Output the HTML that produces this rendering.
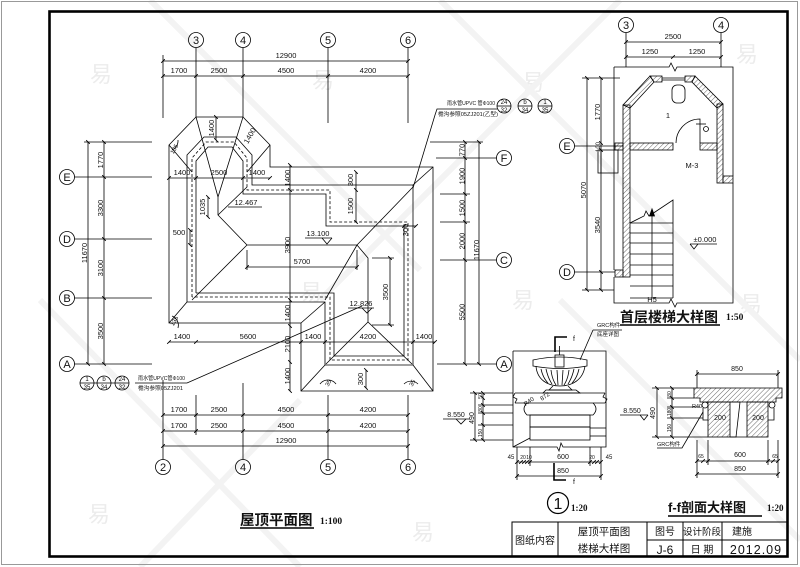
<!DOCTYPE html>
<html><head><meta charset="utf-8">
<style>
html,body{margin:0;padding:0;background:#fff;}
svg{display:block}
text{font-family:"Liberation Sans","Noto Sans CJK SC",sans-serif;fill:#111;stroke:none}
.c{font-family:"Liberation Sans","Noto Sans CJK SC",sans-serif}
text.wm{fill:#ececec}
</style></head>
<body>
<svg width="800" height="567" viewBox="0 0 800 567" xmlns="http://www.w3.org/2000/svg">
<defs>
<marker id="k" viewBox="-3 -3 6 6" markerWidth="6" markerHeight="6" refX="0" refY="0" orient="auto" markerUnits="userSpaceOnUse"><path d="M-1.8,1.8 L1.8,-1.8" stroke="#000" stroke-width="0.9"/></marker>
<pattern id="h" width="3.5" height="3.5" patternUnits="userSpaceOnUse" patternTransform="rotate(45)"><line x1="0" y1="0" x2="0" y2="3.5" stroke="#000" stroke-width="0.6"/></pattern>
<style>.d{marker-start:url(#k);marker-mid:url(#k);marker-end:url(#k);fill:none}</style>
</defs>

<!-- watermark -->
<g font-size="22">
<text class="wm c" x="90" y="82">易</text><text class="wm c" x="312" y="88">易</text><text class="wm c" x="522" y="90">易</text><text class="wm c" x="736" y="62">易</text>
<text class="wm c" x="512" y="308">易</text><text class="wm c" x="740" y="312">易</text><text class="wm c" x="88" y="522">易</text><text class="wm c" x="412" y="540">易</text><text class="wm c" x="300" y="300">易</text>
</g>
<g stroke="#f3f3f3" stroke-width="6" fill="none">
<line x1="150" y1="0" x2="420" y2="270"/><line x1="440" y1="0" x2="800" y2="360"/><line x1="40" y1="300" x2="300" y2="567"/><line x1="560" y1="300" x2="800" y2="540"/><line x1="620" y1="0" x2="320" y2="300"/><line x1="300" y1="400" x2="140" y2="567"/>
</g>

<!-- frames -->
<rect x="1.5" y="1.5" width="796" height="563" fill="none" stroke="#999" stroke-width="1"/>
<rect x="49.5" y="11.5" width="738" height="545" fill="none" stroke="#000" stroke-width="2.6"/>

<!-- ============ ROOF PLAN ============ -->
<g fill="none" stroke="#000" stroke-width="0.8">
<circle cx="196" cy="40" r="7.5"/><circle cx="243" cy="40" r="7.5"/><circle cx="328" cy="40" r="7.5"/><circle cx="408" cy="40" r="7.5"/>
<line x1="196" y1="47.5" x2="196" y2="117"/><line x1="243" y1="47.5" x2="243" y2="117"/>
<line x1="328" y1="47.5" x2="328" y2="123"/><line x1="408" y1="47.5" x2="408" y2="123"/>
<line x1="163" y1="55" x2="163" y2="118"/>
<polyline class="d" points="163,61 408,61"/>
<polyline class="d" points="163,76 196,76 243,76 328,76 408,76"/>
<circle cx="67" cy="177" r="7.5"/><circle cx="67" cy="239" r="7.5"/><circle cx="67" cy="298" r="7.5"/><circle cx="67" cy="364" r="7.5"/>
<line x1="74.5" y1="177" x2="152" y2="177"/><line x1="74.5" y1="239" x2="152" y2="239"/>
<line x1="74.5" y1="298" x2="152" y2="298"/><line x1="74.5" y1="364" x2="152" y2="364"/>
<line x1="84" y1="142" x2="152" y2="142"/>
<polyline class="d" points="88,142 88,364"/>
<polyline class="d" points="104,142 104,177 104,239 104,298 104,364"/>
<circle cx="504" cy="158" r="7.5"/><circle cx="504" cy="260" r="7.5"/><circle cx="504" cy="364" r="7.5"/>
<line x1="430" y1="142" x2="483" y2="142"/><line x1="436" y1="158" x2="496.5" y2="158"/>
<line x1="440" y1="194" x2="470" y2="194"/><line x1="440" y1="222" x2="470" y2="222"/>
<line x1="440" y1="260" x2="496.5" y2="260"/><line x1="437" y1="364" x2="496.5" y2="364"/>
<polyline class="d" points="465,142 465,158 465,194 465,222 465,260 465,364"/>
<polyline class="d" points="479,142 479,364"/>

<polygon points="169,145 196,117 243,117 270,145 270,167 433,167 433,391 301,391 301,323 169,323"/>
<polygon points="187,302 187,155 204,137 236,137 252,155 252,185 413,185 413,365 325,365 325,302"/>
<polyline stroke-dasharray="3,2" points="192,297 192,158 206,142 234,142 247,158 247,190 330,190 330,222 408,222 408,360 330,360 330,297 192,297"/>
<polyline points="196,293 196,161 208,147 232,147 243,161 243,194 326,194 326,226 404,226 404,356 334,356 334,293 196,293"/>
<polyline points="218,197 218,215 247,245 357,245 368,258 368,322"/>
<line x1="218" y1="215" x2="247" y2="187"/>
<line x1="247" y1="245" x2="192" y2="300"/>
<line x1="357" y1="245" x2="413" y2="187"/>
<line x1="357" y1="245" x2="325" y2="300"/>
<line x1="368" y1="322" x2="326" y2="364"/><line x1="368" y1="322" x2="412" y2="364"/>
<line x1="169" y1="323" x2="187" y2="302"/><line x1="433" y1="167" x2="413" y2="185"/>
<line x1="301" y1="391" x2="325" y2="365"/><line x1="433" y1="391" x2="413" y2="365"/>
<line x1="301" y1="323" x2="325" y2="302"/>
<line x1="218" y1="197" x2="196" y2="117"/><line x1="218" y1="197" x2="243" y2="117"/>
<line x1="169" y1="145" x2="192" y2="172"/><line x1="270" y1="145" x2="247" y2="172"/>
<polyline class="d" points="290,165 290,190 290,300 290,326 290,362 290,391"/>
<polyline class="d" points="169,342 196,342 301,342 325,342 413,342 435,342"/>
<polyline class="d" points="169,178 196,178 243,178 270,178"/>
<polyline class="d" points="247,267 357,267"/>
<line x1="247" y1="250" x2="247" y2="270"/><line x1="357" y1="250" x2="357" y2="270"/>
<polyline class="d" points="390,258 390,325"/>
<line x1="372" y1="258" x2="394" y2="258"/><line x1="372" y1="325" x2="394" y2="325"/>
<polyline class="d" points="356,172 356,190 356,222"/>
<polyline class="d" points="208,197 208,217"/>
<polyline class="d" points="216,117 216,140"/>
<polyline class="d" points="404,226 416,226"/>
<polyline class="d" points="190,230 190,245"/>
<polyline class="d" points="366,370 366,388"/>
<line x1="305" y1="238" x2="332" y2="238"/><polyline points="322,238 327,244 332,238"/>
<line x1="228" y1="207" x2="262" y2="207"/>
<line x1="348" y1="308" x2="374" y2="308"/><polyline points="362,308 367,313 372,308"/>
<path d="M320,384 A10,10 0 0 1 336,384"/><path d="M404,384 A10,10 0 0 1 418,384"/>
<path d="M172,316 A10,10 0 0 1 178,328"/><path d="M172,150 A10,10 0 0 0 178,140"/>
<polyline points="413,188 435,115 437,109 497,109"/>
<circle cx="504" cy="106" r="7"/><circle cx="525" cy="106" r="7"/><circle cx="545" cy="106" r="7"/>
<line x1="497" y1="106" x2="511" y2="106"/><line x1="518" y1="106" x2="532" y2="106"/><line x1="538" y1="106" x2="552" y2="106"/>
<polyline points="362,306 187,383 135,383"/>
<circle cx="87" cy="383" r="7"/><circle cx="104" cy="383" r="7"/><circle cx="122" cy="383" r="7"/>
<line x1="80" y1="383" x2="129" y2="383"/>
<line x1="163" y1="380" x2="163" y2="459.5"/><line x1="196" y1="395" x2="196" y2="435"/>
<line x1="243" y1="383" x2="243" y2="459.5"/><line x1="328" y1="395" x2="328" y2="459.5"/><line x1="408" y1="395" x2="408" y2="459.5"/>
<polyline class="d" points="163,415 196,415 243,415 328,415 408,415"/>
<polyline class="d" points="163,431 196,431 243,431 328,431 408,431"/>
<polyline class="d" points="163,446 408,446"/>
<circle cx="163" cy="467" r="7.5"/><circle cx="243" cy="467" r="7.5"/><circle cx="328" cy="467" r="7.5"/><circle cx="408" cy="467" r="7.5"/>
<line x1="240" y1="528" x2="314" y2="528" stroke-width="1.4"/>
</g>

<g font-size="11" text-anchor="middle">
<text x="196" y="44">3</text><text x="243" y="44">4</text><text x="328" y="44">5</text><text x="408" y="44">6</text>
<text x="67" y="181">E</text><text x="67" y="243">D</text><text x="67" y="302">B</text><text x="67" y="368">A</text>
<text x="504" y="162">F</text><text x="504" y="264">C</text><text x="504" y="368">A</text>
<text x="163" y="471">2</text><text x="243" y="471">4</text><text x="328" y="471">5</text><text x="408" y="471">6</text>
</g>
<g font-size="7.5" text-anchor="middle">
<text x="286" y="58">12900</text>
<text x="179" y="73">1700</text><text x="219" y="73">2500</text><text x="286" y="73">4500</text><text x="368" y="73">4200</text>
<text x="179" y="412">1700</text><text x="219" y="412">2500</text><text x="286" y="412">4500</text><text x="368" y="412">4200</text>
<text x="179" y="428">1700</text><text x="219" y="428">2500</text><text x="286" y="428">4500</text><text x="368" y="428">4200</text>
<text x="286" y="443">12900</text>
<text transform="translate(103,160) rotate(-90)">1770</text>
<text transform="translate(103,208) rotate(-90)">3300</text>
<text transform="translate(103,268) rotate(-90)">3100</text>
<text transform="translate(103,331) rotate(-90)">3500</text>
<text transform="translate(87,253) rotate(-90)">11670</text>
<text transform="translate(464.5,150) rotate(-90)">770</text>
<text transform="translate(464.5,176) rotate(-90)">1900</text>
<text transform="translate(464.5,208) rotate(-90)">1500</text>
<text transform="translate(464.5,241) rotate(-90)">2000</text>
<text transform="translate(464.5,312) rotate(-90)">5500</text>
<text transform="translate(479,250) rotate(-90)">11670</text>
<text transform="translate(290,178) rotate(-90)">1400</text>
<text transform="translate(290,245) rotate(-90)">3900</text>
<text transform="translate(290,313) rotate(-90)">1400</text>
<text transform="translate(290,344) rotate(-90)">2100</text>
<text transform="translate(290,376) rotate(-90)">1400</text>
<text transform="translate(388,292) rotate(-90)">3500</text>
<text transform="translate(353,206) rotate(-90)">1500</text>
<text transform="translate(353,180) rotate(-90)">300</text>
<text transform="translate(205,207) rotate(-90)">1035</text>
<text transform="translate(214,128) rotate(-90)">1400</text>
<text transform="translate(252,137) rotate(-60)">1400</text>
<text transform="translate(408,230) rotate(-90)">300</text>
<text transform="translate(363,379) rotate(-90)">300</text>
<text x="182" y="339">1400</text><text x="248" y="339">5600</text><text x="313" y="339">1400</text><text x="368" y="339">4200</text><text x="424" y="339">1400</text>
<text x="182" y="175">1400</text><text x="219" y="175">2500</text><text x="257" y="175">1400</text>
<text x="302" y="264">5700</text>
<text x="179" y="235">500</text>
<text x="318" y="236">13.100</text>
<text x="246" y="205">12.467</text>
<text x="361" y="306">12.826</text>
<text transform="translate(176,322) rotate(-60)" font-size="6">135</text>
<text transform="translate(176,150) rotate(-60)" font-size="6">135</text>
<text transform="translate(330,384) rotate(-60)" font-size="6">35</text>
<text transform="translate(414,384) rotate(-60)" font-size="6">35</text>
</g>
<g font-size="5.5" class="c">
<text x="447" y="105" textLength="48" lengthAdjust="spacingAndGlyphs">雨水管UPVC 管Φ100</text>
<text x="438" y="116" textLength="60" lengthAdjust="spacingAndGlyphs">檐沟参照05ZJ201(乙型)</text>
<text x="138" y="380" textLength="47" lengthAdjust="spacingAndGlyphs">雨水管UPVC管Φ100</text>
<text x="138" y="390" textLength="45" lengthAdjust="spacingAndGlyphs">檐沟参照05ZJ201</text>
</g>
<g font-size="6" text-anchor="middle">
<text x="504" y="104">24</text><text x="504" y="112">32</text>
<text x="525" y="104">b</text><text x="525" y="112">34</text>
<text x="545" y="104">1</text><text x="545" y="112">35</text>
<text x="87" y="381">1</text><text x="87" y="389">35</text>
<text x="104" y="381">b</text><text x="104" y="389">34</text>
<text x="122" y="381">24</text><text x="122" y="389">32</text>
</g>
<text x="240" y="525" font-size="14.5" font-weight="bold" class="c">屋顶平面图</text>
<text x="320" y="524" font-size="9.5" font-weight="bold" style="font-family:'Liberation Serif',serif">1:100</text>

<!-- ============ STAIR PLAN ============ -->
<g fill="none" stroke="#000" stroke-width="0.8">
<circle cx="626" cy="25" r="7.5"/><circle cx="721" cy="25" r="7.5"/>
<line x1="626" y1="32.5" x2="626" y2="67"/><line x1="721" y1="32.5" x2="721" y2="67"/>
<polyline class="d" points="626,42 721,42"/>
<polyline class="d" points="626,57 673,57 721,57"/>
<polyline points="614,67 669,67 671,63 675,71 677,67 733,67 733,176"/>
<polyline points="733,183 733,303 677,303 675,307 671,299 669,303 614,303 614,277"/>
<line x1="614" y1="67" x2="614" y2="270"/>
<g fill="url(#h)">
<rect x="623" y="105" width="7" height="172"/>
<rect x="615" y="270" width="8" height="7"/>
<rect x="615" y="143" width="8" height="7"/>
<polygon points="623,105 650,76 654,82 630,108"/>
<polygon points="650,76 662,76 662,82 654,82"/>
<polygon points="685,76 695,76 692,82 685,82"/>
<polygon points="695,76 723,104 717,108 692,82"/>
<rect x="717" y="104" width="6" height="79"/>
<rect x="723" y="176" width="10" height="7"/>
<rect x="630" y="143" width="43" height="7"/>
<rect x="700" y="143" width="17" height="7"/>
</g>
<line x1="662" y1="78" x2="685" y2="78"/><line x1="662" y1="80" x2="685" y2="80"/>
<rect x="672" y="85" width="13" height="18" rx="5"/>
<circle cx="706" cy="129" r="2.5"/><line x1="696" y1="124" x2="706" y2="124"/>
<path d="M700,143 L700,119 A24,24 0 0 0 676,143"/>
<rect x="598" y="150" width="20" height="23"/><line x1="601" y1="150" x2="601" y2="173"/>
<polyline points="630,223 644,216 646,211 649,216 673,200 673,298"/>
<line x1="630" y1="223" x2="673" y2="223"/><line x1="630" y1="233" x2="673" y2="233"/>
<line x1="630" y1="243" x2="673" y2="243"/><line x1="630" y1="254" x2="673" y2="254"/>
<line x1="630" y1="265" x2="673" y2="265"/><line x1="630" y1="275" x2="673" y2="275"/>
<line x1="630" y1="286" x2="673" y2="286"/><line x1="630" y1="298" x2="673" y2="298"/>
<line x1="652" y1="298" x2="652" y2="212"/>
<polygon points="652,209 649.5,216 654.5,216" fill="#000"/>
<line x1="582" y1="78" x2="620" y2="78"/><line x1="582" y1="290" x2="614" y2="290"/>
<line x1="574.5" y1="146" x2="623" y2="146"/><line x1="574.5" y1="272" x2="615" y2="272"/>
<polyline class="d" points="587,78 587,290"/>
<polyline class="d" points="601,78 601,143 601,150 601,272 601,290"/>
<circle cx="567" cy="146" r="7.5"/><circle cx="567" cy="272" r="7.5"/>
<line x1="690" y1="244" x2="717" y2="244"/><polyline points="690,244 694,249 698,244"/>
<line x1="620" y1="325" x2="720" y2="325" stroke-width="1.4"/>
</g>
<g font-size="11" text-anchor="middle">
<text x="626" y="29">3</text><text x="721" y="29">4</text>
<text x="567" y="150">E</text><text x="567" y="276">D</text>
</g>
<g font-size="7.5" text-anchor="middle">
<text x="673" y="39">2500</text>
<text x="650" y="54">1250</text><text x="697" y="54">1250</text>
<text transform="translate(600,112) rotate(-90)">1770</text>
<text transform="translate(600,147) rotate(-90)" font-size="6">100</text>
<text transform="translate(586,190) rotate(-90)">5070</text>
<text transform="translate(600,225) rotate(-90)">3540</text>
<text x="692" y="168">M-3</text>
<text x="705" y="242">±0.000</text>
<text x="668" y="118">1</text>
<text x="652" y="302">H5</text>
</g>
<text x="620" y="322" font-size="14" font-weight="bold" class="c">首层楼梯大样图</text>
<text x="726" y="320" font-size="9.5" font-weight="bold" style="font-family:'Liberation Serif',serif">1:50</text>

<!-- ============ DETAIL 1 ============ -->
<g fill="none" stroke="#000" stroke-width="0.8">
<polyline points="513,351 606,351 606,447 563,447 561,443 559,451 557,447 513,447 513,351"/>
<polyline points="555,352 555,337 567,337" stroke-width="1.6"/>
<polyline points="554,463 554,480 566,480" stroke-width="1.6"/>
<rect x="555" y="355" width="9" height="12"/>
<line x1="559.5" y1="346" x2="559.5" y2="355"/>
<path d="M533,360 Q560,354 587,360 L587,366 Q560,371 533,366 Z"/>
<path d="M536,366 C537,380 548,386 560,386 C572,386 583,380 585,366"/>
<path d="M541,369 Q543,378 548,383 M546,369 Q548,378 552,384 M551,370 Q552,379 556,385 M557,370 L558,385 M563,370 L562,385 M569,370 Q568,379 564,385 M574,369 Q572,378 568,384 M579,369 Q577,378 572,383"/>
<path d="M553,386 L549,390 L572,390 L568,386"/>
<path d="M546,390 L576,390 L580,393 L543,393 Z"/>
<polyline points="515,393 605,393"/><polyline points="515,403 605,403"/>
<polyline points="515,393 513,397 517,399 515,403"/><polyline points="605,393 603,397 607,399 605,403"/>
<path d="M527,403 Q521,409 527,415 L593,415 Q599,409 593,403"/>
<rect x="530" y="415" width="60" height="12"/>
<rect x="530" y="427" width="60" height="13"/>
<line x1="590" y1="428" x2="606" y2="428"/><line x1="590" y1="436" x2="606" y2="436"/>
<line x1="513" y1="447" x2="530" y2="438"/>
<polyline points="593,330 580,360"/><line x1="593" y1="330" x2="622" y2="330"/>
<polyline class="d" points="475,393 475,440"/>
<polyline class="d" points="483,393 483,398 483,405 483,413 483,425 483,440"/>
<line x1="470" y1="393" x2="513" y2="393"/><line x1="470" y1="440" x2="513" y2="440"/>
<line x1="478" y1="405" x2="513" y2="405"/><line x1="478" y1="413" x2="513" y2="413"/><line x1="478" y1="425" x2="513" y2="425"/>
<line x1="443" y1="419" x2="470" y2="419"/><polyline points="456,419 461,424 466,419"/>
<polyline class="d" points="517,462 521,462 524,462 527,462 530,462 590,462 594,462 597,462 601,462"/>
<polyline class="d" points="517,476 601,476"/>
<line x1="517" y1="447" x2="517" y2="480"/><line x1="601" y1="447" x2="601" y2="480"/>
<line x1="530" y1="447" x2="530" y2="466"/><line x1="590" y1="447" x2="590" y2="466"/>
<circle cx="558" cy="503" r="10.5" stroke-width="1.2"/>
</g>
<g font-size="7" text-anchor="middle">
<text x="574" y="341">f</text><text x="574" y="484">f</text>
<text x="563" y="459">600</text><text x="563" y="473">850</text>
<text x="511" y="459" font-size="6">45</text><text x="523" y="459" font-size="5">20</text><text x="529" y="459" font-size="5">10</text>
<text x="592" y="459" font-size="5">20</text><text x="609" y="459" font-size="6">45</text>
<text transform="translate(474,418) rotate(-90)">490</text>
<text transform="translate(482,396) rotate(-90)" font-size="5">50</text>
<text transform="translate(482,409) rotate(-90)" font-size="5">80</text>
<text transform="translate(482,433) rotate(-90)" font-size="5">150</text>
<text x="456" y="417">8.550</text>
<text transform="translate(530,403) rotate(-35)" font-size="6">R40</text>
<text transform="translate(546,398) rotate(-35)" font-size="6">872</text>
<text x="558" y="509" font-size="16">1</text>
</g>
<text x="597" y="327" font-size="5.5" class="c">GRC构件</text>
<text x="597" y="336" font-size="5.5" class="c">底座详图</text>
<text x="571" y="511" font-size="9" font-weight="bold" style="font-family:'Liberation Serif',serif">1:20</text>

<!-- ============ SECTION f-f ============ -->
<g fill="none" stroke="#000" stroke-width="0.8">
<polyline class="d" points="697,374 778,374"/>
<line x1="697" y1="370" x2="697" y2="388"/><line x1="778" y1="370" x2="778" y2="388"/>
<polygon points="694,388 782,388 782,398 776,398 776,402 700,402 700,398 694,398" fill="url(#h)"/>
<rect x="708" y="402" width="22" height="35" fill="url(#h)"/>
<rect x="747" y="402" width="21" height="35" fill="url(#h)"/>
<polyline points="730,402 740,402 736,437 730,437"/>
<line x1="730" y1="437" x2="747" y2="437"/>
<circle cx="705" cy="405" r="3"/><circle cx="772" cy="405" r="3"/>
<path d="M703,408 L703,420 L708,420 M774,408 L774,420 L768,420"/>
<polyline class="d" points="657,388 657,437"/>
<polyline class="d" points="672,388 672,398 672,407 672,418 672,437"/>
<line x1="652" y1="388" x2="694" y2="388"/><line x1="652" y1="437" x2="708" y2="437"/>
<line x1="667" y1="398" x2="694" y2="398"/><line x1="667" y1="407" x2="700" y2="407"/><line x1="667" y1="418" x2="703" y2="418"/>
<line x1="620" y1="415" x2="648" y2="415"/><polyline points="640,415 644,420 648,415"/>
<polyline points="657,448 682,448 703,412"/>
<polyline class="d" points="697,461 703,461 708,461 768,461 773,461 778,461"/>
<polyline class="d" points="697,474 778,474"/>
<line x1="697" y1="440" x2="697" y2="478"/><line x1="778" y1="440" x2="778" y2="478"/>
<line x1="708" y1="440" x2="708" y2="465"/><line x1="768" y1="440" x2="768" y2="465"/>
<line x1="668" y1="516" x2="762" y2="516" stroke-width="1.4"/>
</g>
<g font-size="7" text-anchor="middle">
<text x="737" y="371">850</text>
<text x="740" y="457">600</text><text x="740" y="471">850</text>
<text x="720" y="420">200</text><text x="758" y="420">200</text>
<text transform="translate(655,413) rotate(-90)">490</text>
<text transform="translate(671,394) rotate(-90)" font-size="5">80</text>
<text transform="translate(671,412) rotate(-90)" font-size="5">180</text>
<text transform="translate(671,428) rotate(-90)" font-size="5">150</text>
<text x="632" y="413">8.550</text>
<text x="697" y="408" font-size="5.5">R40</text>
<text x="701" y="458" font-size="5">65</text><text x="775" y="458" font-size="5">65</text>
</g>
<text x="657" y="446" font-size="5.5" class="c">GRC构件</text>
<text x="668" y="512" font-size="13" font-weight="bold" class="c">f-f剖面大样图</text>
<text x="767" y="511" font-size="9" font-weight="bold" style="font-family:'Liberation Serif',serif">1:20</text>

<!-- ============ TITLE BLOCK ============ -->
<g fill="none" stroke="#000" stroke-width="1">
<rect x="512" y="522" width="276" height="34"/>
<line x1="558" y1="522" x2="558" y2="556"/>
<line x1="647" y1="522" x2="647" y2="556"/>
<line x1="683" y1="522" x2="683" y2="556"/>
<line x1="722" y1="522" x2="722" y2="556"/>
<line x1="647" y1="540" x2="788" y2="540"/>
</g>
<g class="c" text-anchor="middle">
<text x="535" y="544" font-size="10">图纸内容</text>
<text x="604" y="535" font-size="10.5">屋顶平面图</text>
<text x="604" y="552" font-size="10.5">楼梯大样图</text>
<text x="665" y="535" font-size="10">图号</text>
<text x="702" y="535" font-size="9.5">设计阶段</text>
<text x="742" y="535" font-size="10">建施</text>
<text x="665" y="554" font-size="12">J-6</text>
<text x="702" y="553" font-size="10">日 期</text>
<text x="756" y="554" font-size="12.5" letter-spacing="1">2012.09</text>
</g>
</svg>
</body></html>
